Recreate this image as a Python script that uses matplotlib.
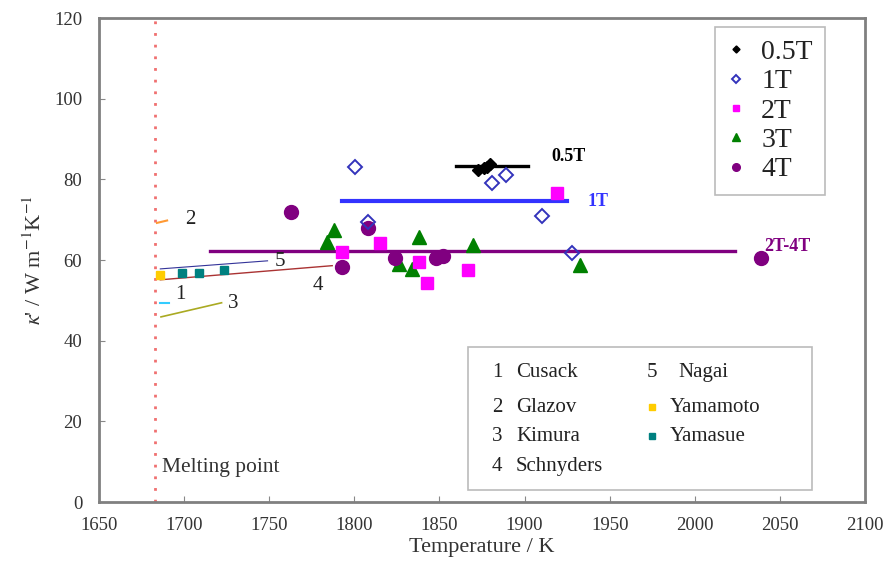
import matplotlib
matplotlib.use("Agg")
import matplotlib.pyplot as plt
from matplotlib.patches import Rectangle

plt.rcParams['font.family'] = ['Liberation Serif', 'DejaVu Serif']
plt.rcParams['mathtext.fontset'] = 'stix'

# ---- data ----
melting_T = 1683

t05_T = [1872.5, 1876, 1878, 1879.6]
t05_k = [82.4, 82.9, 83.1, 83.9]
t05_line_T = [1860, 1902]
t05_line_k = [83.4, 83.4]

t1_T = [1800.3, 1808, 1881, 1889, 1910, 1928]
t1_k = [83.1, 69.5, 79.2, 81.0, 71.0, 61.8]
t1_line_T = [1792.7, 1924.8]
t1_line_k = [74.7, 74.7]

t2_T = [1919, 1792.7, 1815, 1838, 1842.6, 1866.7]
t2_k = [76.7, 62.0, 64.3, 59.6, 54.3, 57.6]

t3_T = [1784, 1788, 1838, 1834, 1826, 1869.6, 1932.5]
t3_k = [64.5, 67.5, 65.8, 57.8, 59.0, 63.8, 58.8]

t4_T = [1763, 1792.7, 1808, 1823.8, 1848, 1852, 2039]
t4_k = [72.0, 58.3, 68.0, 60.5, 60.6, 61.0, 60.5]
t24_line_T = [1715, 2023.5]
t24_line_k = [62.3, 62.3]

cusack_T = [1686, 1691]; cusack_k = [49.4, 49.4]
glazov_T = [1684, 1690]; glazov_k = [69.2, 69.8]
kimura_T = [1686.4, 1722]; kimura_k = [45.9, 49.4]
schnyders_T = [1686, 1787]; schnyders_k = [55.1, 58.6]
nagai_T = [1686, 1749]; nagai_k = [57.8, 59.8]
yamamoto_T = [1686]; yamamoto_k = [56.3]
yamasue_T = [1698.7, 1708.7, 1723.4]; yamasue_k = [56.8, 56.8, 57.6]

num_labels = ["1", "2", "3", "4", "5"]
num_T = [1698, 1703.4, 1729, 1778.6, 1756]
num_k = [51.4, 70.0, 49.1, 53.8, 59.6]

xticks = [1650, 1700, 1750, 1800, 1850, 1900, 1950, 2000, 2050, 2100]
yticks = [0, 20, 40, 60, 80, 100, 120]

# ---- figure ----
fig = plt.figure(figsize=(8.85, 5.63), dpi=100)
ax = fig.add_axes([0.1119, 0.1083, 0.8655, 0.8597])
ax.set_xlim(1650, 2100)
ax.set_ylim(0, 120)

ax.axvline(melting_T, color='#f07070', lw=2, linestyle=(0, (1, 3.2)), zorder=1)
ax.text(1687, 8.6, "Melting point", fontsize=15.5, color='#333333', va='center', ha='left')

# literature lines
ax.plot(cusack_T, cusack_k, color='#33ccff', lw=1.5)
ax.plot(glazov_T, glazov_k, color='#ff9933', lw=1.5)
ax.plot(kimura_T, kimura_k, color='#aaaa22', lw=1.2)
ax.plot(schnyders_T, schnyders_k, color='#aa3333', lw=1.0)
ax.plot(nagai_T, nagai_k, color='#333399', lw=0.8)
ax.plot(yamamoto_T, yamamoto_k, 's', color='#ffcc00', ms=6, zorder=4)
ax.plot(yamasue_T, yamasue_k, 's', color='#008080', ms=5.5, zorder=4)
for lab, t, k in zip(num_labels, num_T, num_k):
    ax.text(t, k, lab, fontsize=15, color='#222222', ha='center', va='center')

# mean lines
ax.plot(t24_line_T, t24_line_k, color='#800080', lw=2.4, zorder=2)
ax.plot(t1_line_T, t1_line_k, color='#3333ff', lw=3, zorder=2)
ax.plot(t05_line_T, t05_line_k, color='black', lw=2.4, zorder=2)

# data series
ax.plot(t05_T, t05_k, 'D', color='black', ms=6.5, ls='none', zorder=5, label='0.5T')
ax.plot(t1_T, t1_k, 'D', mfc='none', mec='#3333bb', mew=1.4, ms=7.5, ls='none', zorder=6, label='1T')
ax.plot(t2_T, t2_k, 's', color='#ff00ff', ms=9, ls='none', zorder=4, label='2T')
ax.plot(t3_T, t3_k, '^', color='#008000', ms=10, ls='none', zorder=3, label='3T')
ax.plot(t4_T, t4_k, 'o', color='#800080', ms=10, ls='none', zorder=4, label='4T')

ax.text(1915.8, 85.6, "0.5T", fontsize=13, fontweight='bold', color='black', va='center', ha='left')
ax.text(1937, 74.4, "1T", fontsize=13, fontweight='bold', color='#3333ff', va='center', ha='left')
ax.text(2041, 63.3, "2T-4T", fontsize=13, fontweight='bold', color='#800080', va='center', ha='left')

leg = ax.legend(loc='upper right', bbox_to_anchor=(0.948, 0.981), borderaxespad=0,
                fontsize=20, markerscale=0.55, handlelength=0.6, handletextpad=0.6,
                labelspacing=0.14, fancybox=False, edgecolor='#bbbbbb', framealpha=1,
                borderpad=0.45)
leg.get_frame().set_linewidth(1.2)
for t in leg.get_texts():
    t.set_color('#222222')

# lower text box
ax.add_patch(Rectangle((0.4817, 0.0248), 0.4491, 0.2952, transform=ax.transAxes,
                       fill=False, edgecolor='#bbbbbb', lw=1.2, zorder=7))
col1 = [("1", "Cusack"), ("2", "Glazov"), ("3", "Kimura"), ("4", "Schnyders")]
rows = [0.2686, 0.1963, 0.1364, 0.0744]
for (n, name), yy in zip(col1, rows):
    ax.text(0.5196, yy, n, transform=ax.transAxes, fontsize=15, va='center', ha='center', color='#222222')
    ax.text(0.5444, yy, name, transform=ax.transAxes, fontsize=15, va='center', ha='left', color='#222222')
ax.text(0.7219, rows[0], "5", transform=ax.transAxes, fontsize=15, va='center', ha='center', color='#222222')
ax.text(0.7559, rows[0], "Nagai", transform=ax.transAxes, fontsize=15, va='center', ha='left', color='#222222')
ax.plot([0.7219], [rows[1]], 's', color='#ffcc00', ms=4, transform=ax.transAxes)
ax.text(0.7454, rows[1], "Yamamoto", transform=ax.transAxes, fontsize=15, va='center', ha='left', color='#222222')
ax.plot([0.7219], [rows[2]], 's', color='#008080', ms=4, transform=ax.transAxes)
ax.text(0.7454, rows[2], "Yamasue", transform=ax.transAxes, fontsize=15, va='center', ha='left', color='#222222')

# axes styling
ax.set_xticks(xticks)
ax.set_yticks(yticks)
ax.tick_params(direction='in', length=4, color='#888888', labelsize=13.5, labelcolor='#333333')
ax.tick_params(axis='x', pad=11)
ax.tick_params(axis='y', pad=12)
for s in ax.spines.values():
    s.set_color('#808080')
    s.set_linewidth(2)
ax.set_xlabel("Temperature / K", fontsize=16, color='#333333', labelpad=3)
ax.set_ylabel(r"$\kappa$' / W m$^{-1}$K$^{-1}$", fontsize=16, color='#333333', labelpad=6)

fig.savefig("out.png", dpi=100)
